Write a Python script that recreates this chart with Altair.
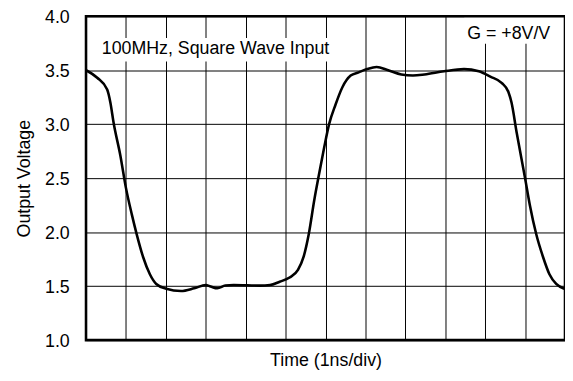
import altair as alt
import pandas as pd

# Time in divisions (1 ns/div) and output voltage
t_ns = [0.0, 0.28, 0.53, 0.61, 0.69, 0.86, 1.0, 1.15, 1.27, 1.43, 1.60, 1.76,
        2.01, 2.38, 2.71, 3.0, 3.12, 3.29, 3.49, 3.70, 4.36, 4.61, 4.85, 5.10,
        5.31, 5.45, 5.58, 5.72, 5.84, 5.97, 6.09, 6.25, 6.42, 6.63, 6.83, 7.04,
        7.28, 7.57, 7.90, 8.19, 8.48, 8.97, 9.47, 9.84, 10.13, 10.42, 10.58,
        10.66, 10.79, 11.0, 11.12, 11.28, 11.45, 11.61, 11.78, 11.98]
volts = [3.50, 3.43, 3.32, 3.20, 3.015, 2.71, 2.41, 2.16, 1.98, 1.77, 1.61, 1.52,
         1.476, 1.455, 1.48, 1.51, 1.497, 1.48, 1.505, 1.51, 1.505, 1.51, 1.54, 1.58,
         1.65, 1.77, 1.98, 2.30, 2.54, 2.79, 3.00, 3.18, 3.34, 3.45, 3.48, 3.51,
         3.53, 3.50, 3.46, 3.45, 3.46, 3.49, 3.51, 3.49, 3.44, 3.38, 3.30,
         3.20, 2.92, 2.50, 2.25, 1.98, 1.77, 1.61, 1.52, 1.476]

x_grid = list(range(0, 13))
y_ticks = [1.0, 1.5, 2.0, 2.5, 3.0, 3.5, 4.0]

label_left = "100MHz, Square Wave Input"
label_right = "G = +8V/V"
x_title = "Time (1ns/div)"
y_title = "Output Voltage"

FONT = "Liberation Sans"
FS = 18
W, H = 485, 328

df = pd.DataFrame({"t": t_ns, "v": volts})
one = pd.DataFrame({"a": [0]})

xenc = alt.X("t:Q", scale=alt.Scale(domain=[0, 12], nice=False, zero=False),
             axis=alt.Axis(values=x_grid, labels=False, ticks=False, domain=False,
                           grid=True, gridColor="black", gridWidth=1, gridOpacity=1,
                           title=x_title, titlePadding=12, titleFont=FONT,
                           titleFontSize=FS, titleFontWeight="normal",
                           titleColor="black"))
yenc = alt.Y("v:Q", scale=alt.Scale(domain=[1.0, 4.0], nice=False, zero=False),
             axis=alt.Axis(values=y_ticks, format=".1f", ticks=False, domain=False,
                           grid=True, gridColor="black", gridWidth=1, gridOpacity=1,
                           labelFont=FONT, labelFontSize=FS, labelColor="black",
                           labelPadding=17, labelOffset=1.5, title=y_title,
                           titlePadding=11, titleFont=FONT, titleFontSize=FS,
                           titleFontWeight="normal", titleColor="black"))

line = alt.Chart(df).mark_line(color="black", strokeWidth=2.6,
                               interpolate="monotone", clip=True).encode(
    x=xenc, y=yenc)

box1 = alt.Chart(one).mark_rect(fill="white").encode(
    x=alt.value(0), x2=alt.value(258), y=alt.value(22), y2=alt.value(46))
box2 = alt.Chart(one).mark_rect(fill="white").encode(
    x=alt.value(383), x2=alt.value(W), y=alt.value(0), y2=alt.value(28))

frame = alt.Chart(one).mark_rect(filled=False, stroke="black",
                                 strokeWidth=2.6).encode(
    x=alt.value(0), x2=alt.value(W), y=alt.value(0), y2=alt.value(H))

txt1 = alt.Chart(one).mark_text(text=label_left, font=FONT, fontSize=FS,
                                align="left", baseline="alphabetic",
                                color="black").encode(
    x=alt.value(16), y=alt.value(38))
txt2 = alt.Chart(one).mark_text(text=label_right, font=FONT, fontSize=FS,
                                align="left", baseline="alphabetic",
                                color="black").encode(
    x=alt.value(386), y=alt.value(23))

chart = alt.layer(box1, box2, line, frame, txt1, txt2).properties(
    width=W, height=H,
    autosize=alt.AutoSizeParams(type="none"),
    padding={"left": 79, "top": 6, "right": 0, "bottom": 31},
    background="white",
).configure_view(stroke=None)

chart.save("out.html", embed_options={"renderer": "svg", "actions": False})
